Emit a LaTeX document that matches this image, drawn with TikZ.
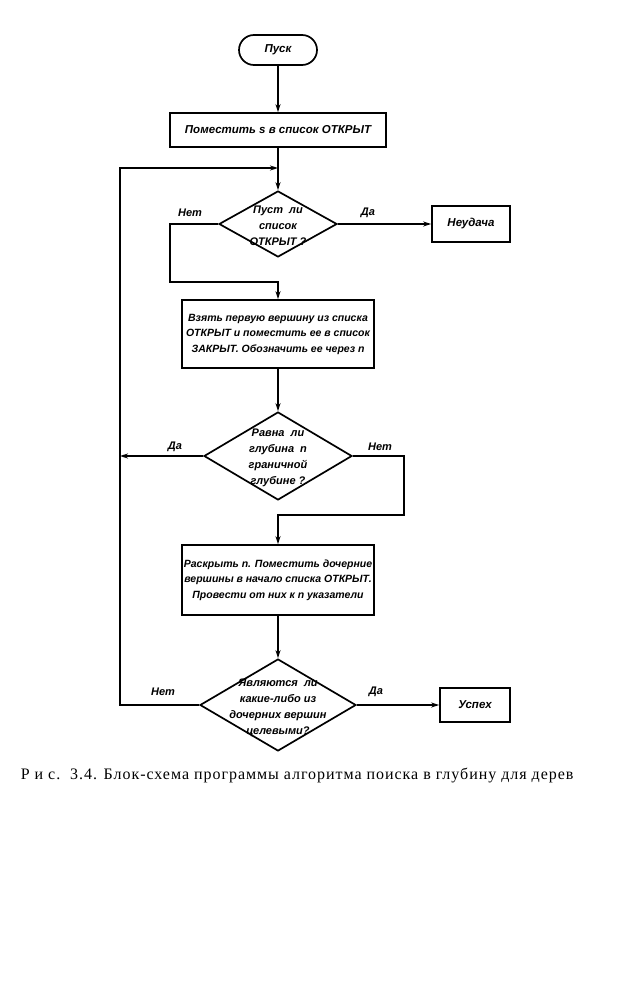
\documentclass[tikz,border=0pt]{standalone}
\usepackage{fontspec}
\setmainfont{Liberation Serif}
\newfontfamily\dfont{Liberation Sans}
\usetikzlibrary{shapes.geometric,arrows.meta}
\begin{document}
\begin{tikzpicture}[x=1pt,y=-1pt, line width=1.7pt,
  txt/.style={font=\dfont\bfseries\itshape\fontsize{10.5}{15.5}\selectfont, align=center, inner sep=0pt},
  dtxt/.style={font=\dfont\bfseries\itshape\fontsize{11}{16}\selectfont, align=center, inner sep=0pt},
  btxt/.style={font=\dfont\bfseries\itshape\fontsize{11.5}{14}\selectfont},
  box/.style={draw, rectangle, inner sep=0pt, txt},
  dia/.style={draw, diamond, inner sep=0pt},
  arr/.style={-{Stealth[length=8pt,width=5pt]}},
  lab/.style={dtxt}]
\useasboundingbox[fill=white] (0,0) rectangle (628,1000);

\node[box, btxt, rounded corners=15pt, minimum width=78pt, minimum height=30pt] (start) at (278,50) {Пуск};
\node[box, btxt, minimum width=216pt, minimum height=34pt] (box1) at (278,130) {Поместить s в список ОТКРЫТ};
\node[dia, minimum width=118pt, minimum height=66pt] (d1) at (278,224) {};
\node[dtxt] (d1t) at (278,226) {Пуст\ \ ли\\список\\ОТКРЫТ ?};
\node[box, btxt, minimum width=78pt, minimum height=36pt] (fail) at (471,224) {Неудача};
\node[box, minimum width=192pt, minimum height=68pt] (box2) at (278,334) {Взять первую вершину из списка\\ОТКРЫТ и поместить ее в список\\ЗАКРЫТ. Обозначить ее через n};
\node[dia, minimum width=148pt, minimum height=88pt] (d2) at (278,456) {};
\node[dtxt] (d2t) at (278,458) {Равна\ \ ли\\глубина\ \ n\\граничной\\глубине ?};
\node[box, minimum width=192pt, minimum height=70pt] (box3) at (278,580) {Раскрыть n. Поместить дочерние\\вершины в начало списка ОТКРЫТ.\\Провести от них к n указатели};
\node[dia, minimum width=156pt, minimum height=92pt] (d3) at (278,705) {};
\node[dtxt] (d3t) at (278,708) {Являются\ \ ли\\какие-либо из\\дочерних вершин\\целевыми?};
\node[box, btxt, minimum width=70pt, minimum height=34pt] (succ) at (475,705) {Успех};

\coordinate (j1) at (278,168);
\coordinate (lt) at (120,168);
\coordinate (c1) at (170,282);
\coordinate (c2) at (404,515);

\draw[arr] (start) -- (box1);
\draw[arr] (box1) -- (d1);
\draw[arr] (d1.west) -| (c1) -- (c1 -| box2.north) -- (box2.north);
\draw[arr] (d1.east) -- (fail.west);
\draw[arr] (box2) -- (d2);
\draw[arr] (d2.west) -- (d2.west -| lt);
\draw[arr] (d2.east) -| (c2) -- (c2 -| box3.north) -- (box3.north);
\draw[arr] (box3) -- (d3);
\draw[arr] (d3.east) -- (succ.west);
\draw[arr] (d3.west) -| (lt) -- (j1);

\node[lab] (l1) at (190,213) {Нет};
\node[lab] (l2) at (368,213) {Да};
\node[lab] (l3) at (175,447) {Да};
\node[lab] (l4) at (380,447) {Нет};
\node[lab] (l5) at (163,692) {Нет};
\node[lab] (l6) at (376,692) {Да};

\node[font=\addfontfeature{LetterSpace=6}\fontsize{16}{18}\selectfont, anchor=west, inner sep=0pt] (cap) at (20,775) {Р и с.\ \ 3.4. Блок-схема программы алгоритма поиска в глубину для дерев};
\end{tikzpicture}
\end{document}
